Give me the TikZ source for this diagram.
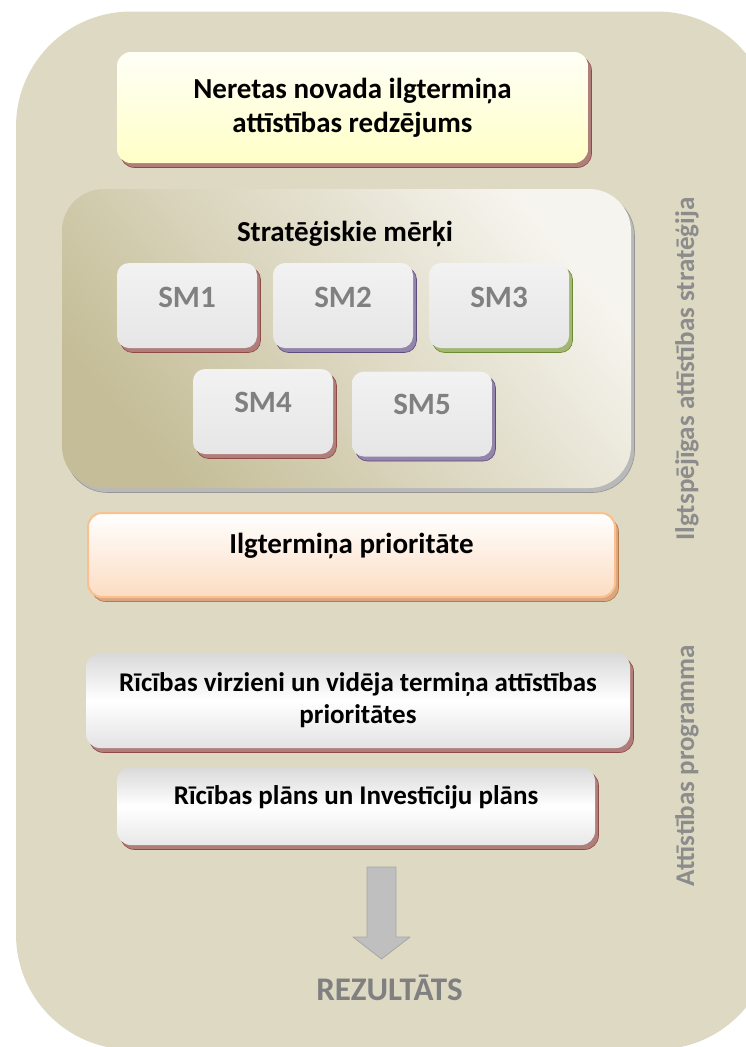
\documentclass[tikz,border=0pt]{standalone}
\usepackage{fontspec}
\setmainfont{Carlito}
\usetikzlibrary{shadows}
\definecolor{bgc}{HTML}{DDD9C3}
\definecolor{contlight}{HTML}{F6F4EE}
\definecolor{contdark}{HTML}{C4BD97}
\definecolor{shred}{HTML}{B07E7A}
\definecolor{shredd}{HTML}{8E4A47}
\definecolor{shpur}{HTML}{9284AA}
\definecolor{shpurd}{HTML}{5F4B7C}
\definecolor{shgrn}{HTML}{A2B772}
\definecolor{shgrnd}{HTML}{6E8A35}
\definecolor{shora}{HTML}{D9A680}
\definecolor{shorad}{HTML}{B7794A}
\definecolor{shgry}{HTML}{B9B9B9}
\definecolor{shgryd}{HTML}{969696}
\definecolor{smtxt}{HTML}{808080}
\definecolor{sidetxt}{HTML}{8C8C8C}
\definecolor{orbrd}{HTML}{FAC090}
\definecolor{arrfill}{HTML}{BFBFBF}
\definecolor{arrdraw}{HTML}{A6A6A6}
\definecolor{smtop}{HTML}{F2F2F2}
\definecolor{smbot}{HTML}{E6E6E6}
\newcommand\myfs[2]{\fontsize{#1}{#2}\selectfont}
\begin{document}
\begin{tikzpicture}[x=1pt,y=-1pt,
  shad/.style 2 args={general shadow={fill=#1,draw=#2,line width=0.6pt,shadow xshift=3.5pt,shadow yshift=-4.5pt}},
  bigbox/.style={rounded corners=14pt, inner sep=0pt, align=center, font=\bfseries\myfs{27}{32}},
  smbox/.style={rounded corners=12pt, inner sep=0pt, minimum width=140pt, minimum height=85pt,
    top color=smtop, bottom color=smbot},
  smtext/.style={anchor=base, text=smtxt, font=\bfseries\myfs{31}{36}},
  sidetext/.style={anchor=base, rotate=90, text=sidetxt, font=\bfseries\myfs{27}{32}},
  blacktext/.style={anchor=base, font=\bfseries\myfs{29}{34}}
]
\useasboundingbox (0,0) rectangle (746,1047);
% outer frame
\node[fill=bgc, rounded corners=115pt, minimum width=756pt, minimum height=1038pt, inner sep=0pt] (frame) at (394,530.5) {};
% vision
\node[bigbox, shad={shred}{shredd}, top color=white!97!yellow, bottom color=white!78!yellow,
  minimum width=471pt, minimum height=111pt, font=\bfseries\myfs{29}{34}] (vision) at (352.5,107.5)
  {Neretas novada ilgtermiņa\\attīstības redzējums};
% strategic goals container
\node[rounded corners=42pt, inner sep=0pt, minimum width=569pt, minimum height=299pt,
  shad={shgry}{shgryd}, top color=contlight, bottom color=contdark, shading angle=-50] (goals) at (346.5,338.5) {};
\node[blacktext] (goalst) at (345,241) {Stratēģiskie mērķi};
% SM boxes
\node[smbox, shad={shred}{shredd}] (sm1) at (187,305.5) {};
\node[smbox, shad={shpur}{shpurd}] (sm2) at (343,305.5) {};
\node[smbox, shad={shgrn}{shgrnd}] (sm3) at (499,305.5) {};
\node[smbox, shad={shred}{shredd}] (sm4) at (263,411.5) {};
\node[smbox, shad={shpur}{shpurd}] (sm5) at (422,414) {};
\node[smtext] (sm1t) at (187,307) {SM1};
\node[smtext] (sm2t) at (343,307) {SM2};
\node[smtext] (sm3t) at (499,307) {SM3};
\node[smtext] (sm4t) at (263,412) {SM4};
\node[smtext] (sm5t) at (422,414) {SM5};
% long-term priority
\node[rounded corners=14pt, inner sep=0pt, minimum width=527pt, minimum height=84pt,
  shad={shora}{shorad}, draw=orbrd, line width=2pt, top color=white, bottom color=orbrd!55!white] (prio) at (351.5,555) {};
\node[blacktext] (priot) at (351.5,553) {Ilgtermiņa prioritāte};
% action directions
\node[bigbox, shad={shred}{shredd}, top color=black!15, bottom color=black!11, middle color=white,
  minimum width=544pt, minimum height=95pt] (dirs) at (358,700.5)
  {Rīcības virzieni un vidēja termiņa attīstības\\prioritātes};
% action plan
\node[rounded corners=14pt, inner sep=0pt, minimum width=478pt, minimum height=78pt,
  shad={shred}{shredd}, top color=black!15, bottom color=black!9, middle color=white] (plan) at (356,806) {};
\node[anchor=base, font=\bfseries\myfs{27}{32}] (plant) at (356,804) {Rīcības plāns un Investīciju plāns};
% block arrow
\draw[fill=arrfill, draw=arrdraw, line width=0.8pt, line join=round]
  (367,867) -- (396,867) -- (396,937) -- (410,937) -- (381.5,959) -- (353,937) -- (367,937) -- cycle;
\node[anchor=base, text=smtxt, font=\bfseries\myfs{33}{38}] (result) at (389.5,1000) {REZULTĀTS};
% side labels
\node[sidetext] (side1) at (694,369) {Ilgtspējīgas attīstības stratēģija};
\node[sidetext] (side2) at (694,765.5) {Attīstības programma};
\end{tikzpicture}
\end{document}
